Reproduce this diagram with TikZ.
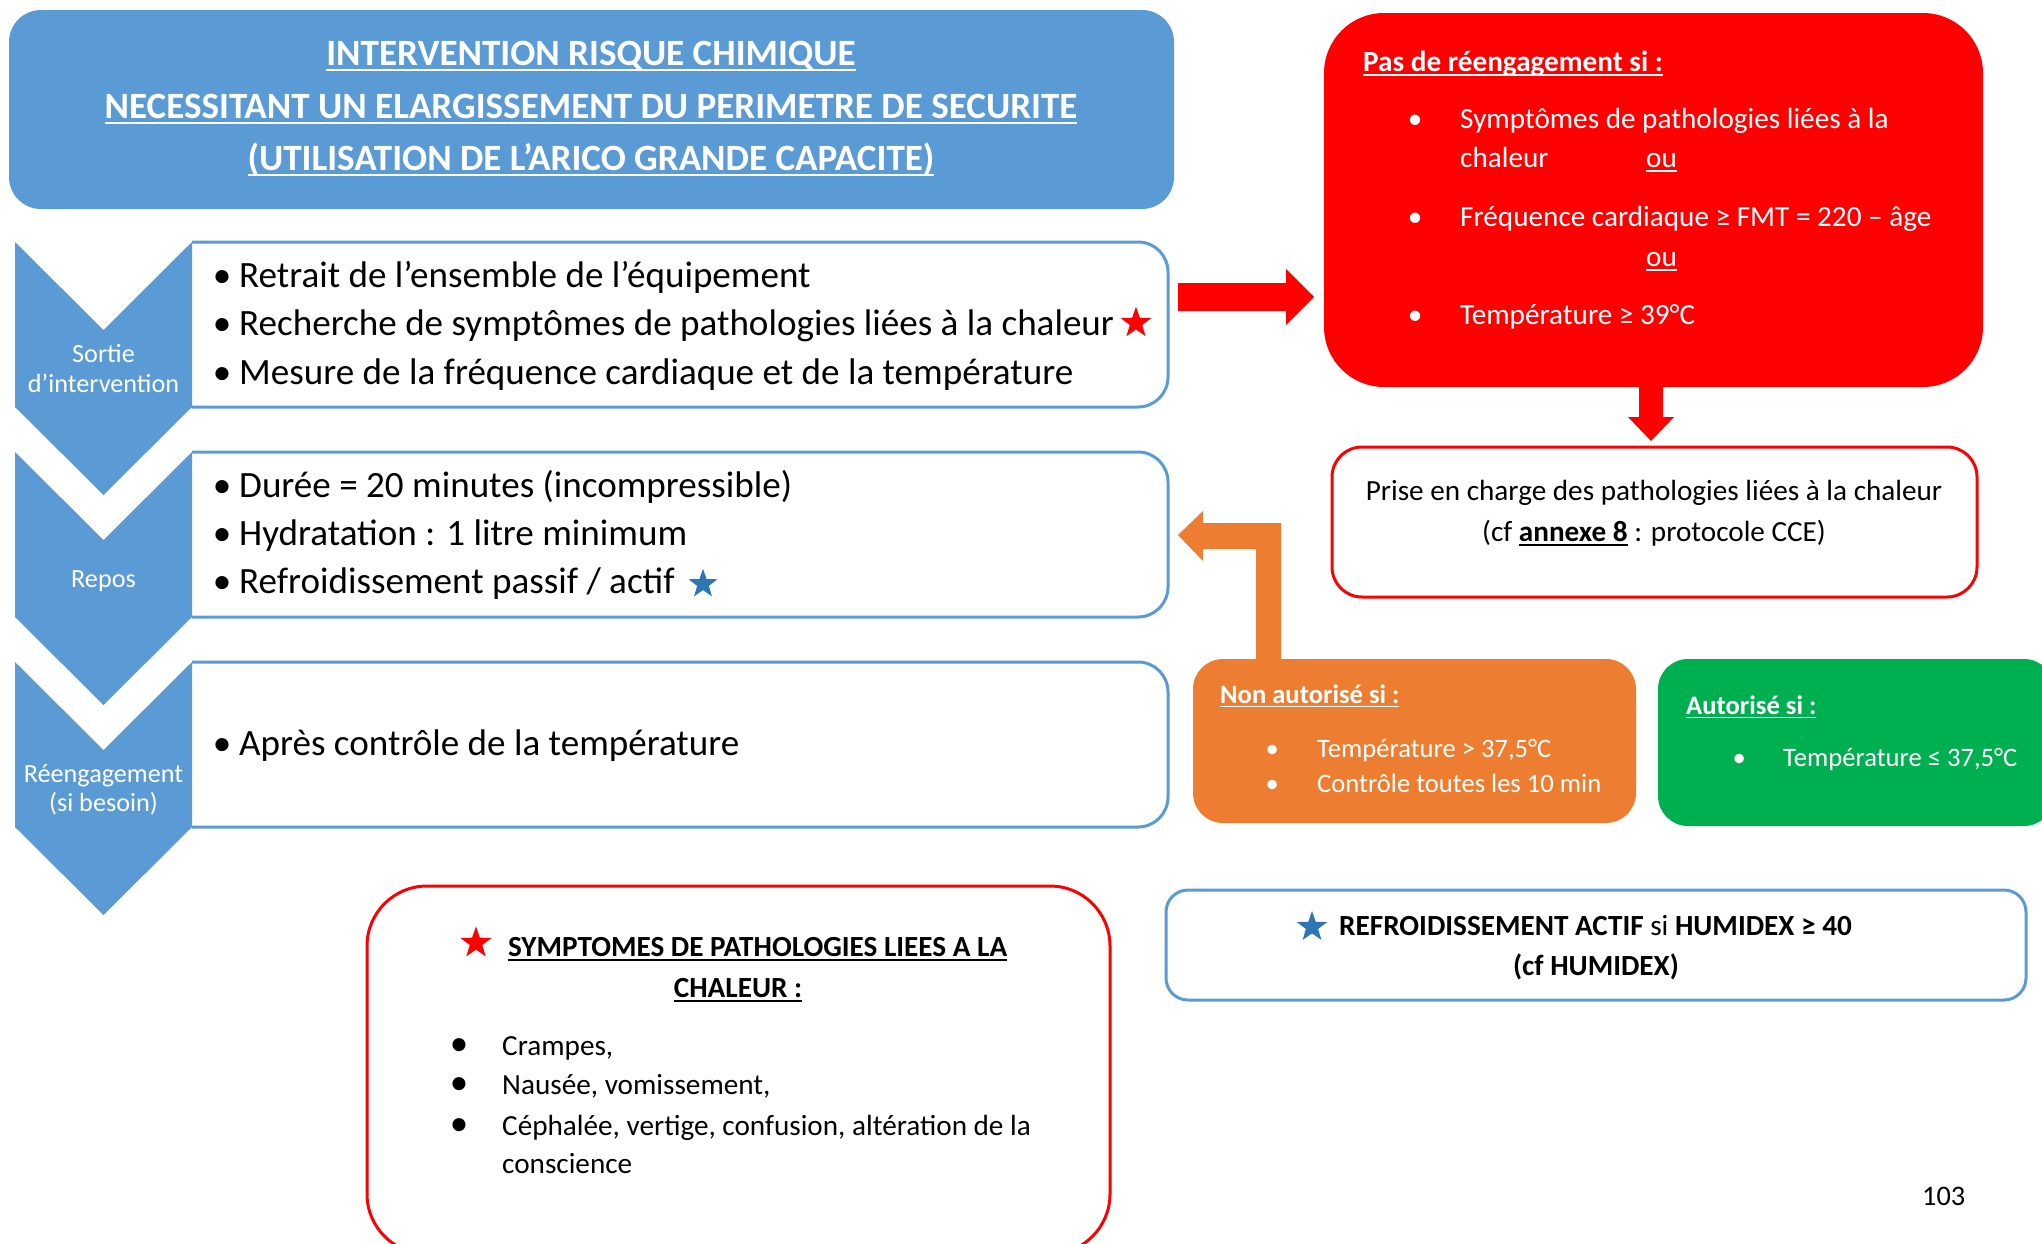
\documentclass[tikz,border=0pt]{standalone}
\usepackage{fontspec}
\setmainfont{Carlito}
\usetikzlibrary{shapes.geometric}
\definecolor{cblue}{RGB}{91,155,213}
\definecolor{corange}{RGB}{237,125,49}
\definecolor{cgreen}{RGB}{0,176,80}
\definecolor{cred}{RGB}{255,0,0}
\definecolor{cstar}{RGB}{46,117,182}
\newcommand\fs[1]{\fontsize{#1}{#1}\selectfont}
\newcommand\myul[1]{\setbox0=\hbox{#1}\rlap{\rule[-0.16em]{\wd0}{0.065em}}\box0\relax}
\newcommand\bl[1]{\makebox[0pt][c]{\textbullet}\hspace{#1}}
\newcommand\chev[2]{\fill[cblue] (15,#1) -- (103.5,#1+88) -- (192,#1) -- (192,#2) -- (103.5,#2+88) -- (15,#2) -- cycle;}
\newcommand\lbox[2]{\filldraw[fill=white, draw=cblue, line width=3, rounded corners=30] (192,#1) -- (1168,#1) -- (1168,#2) -- (192,#2);}
\begin{document}
\begin{tikzpicture}[x=1pt, y=-1pt,
  txt/.style={inner sep=0pt, anchor=base west},
  ctxt/.style={inner sep=0pt, anchor=base},
  starnode/.style={star, star points=5, star point ratio=2.5, inner sep=0pt, minimum size=#1, draw=none}]
\useasboundingbox (0,0) rectangle (2042,1243);
\clip (0,0) rectangle (2042,1243);
\fill[white] (0,0) rectangle (2042,1243);

% title
\fill[cblue, rounded corners=32] (9,10) rectangle (1174,209);
\begin{scope}[every node/.style={ctxt, text=white, font=\fs{37.1}\bfseries}]
\node (ti1) at (591,65) {\myul{INTERVENTION RISQUE CHIMIQUE}};
\node (ti2) at (591,118) {\myul{NECESSITANT UN ELARGISSEMENT DU PERIMETRE DE SECURITE}};
\node (ti3) at (591,170) {\myul{(UTILISATION DE L’ARICO GRANDE CAPACITE)}};
\end{scope}

% left boxes and chevrons
\lbox{242}{407}
\lbox{452}{617}
\lbox{662}{827}
\chev{242}{407}
\chev{452}{617}
\chev{662}{827}

\begin{scope}[every node/.style={ctxt, text=white, font=\fs{26.2}}]
\node (c1a) at (103.5,362) {Sortie};
\node (c1b) at (103.5,392) {d’intervention};
\node (c2) at (103.5,587) {Repos};
\node (c3a) at (103.5,782) {Réengagement};
\node (c3b) at (103.5,811) {(si besoin)};
\end{scope}

\begin{scope}[every node/.style={txt, font=\fs{37.1}}]
\node (b1a) at (222,287) {\bl{17pt}Retrait de l’ensemble de l’équipement};
\node (b1b) at (222,335) {\bl{17pt}Recherche de symptômes de pathologies liées à la chaleur};
\node (b1c) at (222,384) {\bl{17pt}Mesure de la fréquence cardiaque et de la température};
\node (b2a) at (222,497) {\bl{17pt}Durée = 20 minutes (incompressible)};
\node (b2b) at (222,545) {\bl{17pt}Hydratation : 1 litre minimum};
\node (b2c) at (222,593) {\bl{17pt}Refroidissement passif / actif};
\node (b3a) at (222,755) {\bl{17pt}Après contrôle de la température};
\end{scope}
\node[starnode=32.6, fill=cred] (st1) at (1136,323) {};
\node[starnode=30.5, fill=cstar] (st2) at (703,584) {};

% red box
\fill[cred, rounded corners=60] (1324,13) rectangle (1983,387);
\begin{scope}[every node/.style={txt, text=white, font=\fs{29.2}}]
\node (r0) at (1363,71) {\bfseries\myul{Pas de réengagement si :}};
\node (r1) at (1415,128) {\bl{45pt}Symptômes de pathologies liées à la};
\node (r1b) at (1460,167) {chaleur};
\node (r1c) at (1646,167) {\myul{ou}};
\node (r2) at (1415,226) {\bl{45pt}Fréquence cardiaque ≥ FMT = 220 – âge};
\node (r2c) at (1646,266) {\myul{ou}};
\node (r3) at (1415,324) {\bl{45pt}Température ≥ 39°C};
\end{scope}

% red arrows
\fill[cred] (1178,283) -- (1286,283) -- (1286,269) -- (1314,297) -- (1286,325) -- (1286,311) -- (1178,311) -- cycle;
\fill[cred] (1639,380) -- (1663,380) -- (1663,417) -- (1674,417) -- (1651,441) -- (1628,417) -- (1639,417) -- cycle;

% prise en charge box
\filldraw[fill=white, draw=cred, line width=3, rounded corners=30] (1332,447) rectangle (1977,597);
\begin{scope}[every node/.style={ctxt, font=\fs{29.2}}]
\node (p1) at (1654,500) {Prise en charge des pathologies liées à la chaleur};
\node (p2) at (1654,541) {(cf \myul{\textbf{annexe 8}} : protocole CCE)};
\end{scope}

% orange box and elbow arrow
\fill[corange, rounded corners=30] (1193,659) rectangle (1636,823);
\fill[corange] (1256,665) -- (1256,549) -- (1203,549) -- (1203,561) -- (1178,535) -- (1203,511) -- (1203,523) -- (1281,523) -- (1281,665) -- cycle;
\begin{scope}[every node/.style={txt, text=white, font=\fs{26.6}}]
\node (o0) at (1220,703) {\bfseries\myul{Non autorisé si :}};
\node (o1) at (1272,757) {\bl{45pt}Température > 37,5°C};
\node (o2) at (1272,792) {\bl{45pt}Contrôle toutes les 10 min};
\end{scope}

% green box
\fill[cgreen, rounded corners=30] (1658,659) rectangle (2054,826);
\begin{scope}[every node/.style={txt, text=white, font=\fs{26.6}}]
\node (g0) at (1686,714) {\bfseries\myul{Autorisé si :}};
\node (g1) at (1739,766) {\bl{44pt}Température ≤ 37,5°C};
\end{scope}

% note box
\filldraw[fill=white, draw=cblue, line width=3, rounded corners=22] (1166,890) rectangle (2026,1000);
\node[starnode=32, fill=cstar] (st3) at (1312,927) {};
\node[txt, font=\fs{29.2}] (n1) at (1339,935) {\textbf{REFROIDISSEMENT ACTIF} si \textbf{HUMIDEX ≥ 40}};
\node[ctxt, font=\fs{29.2}\bfseries] (n2) at (1596,975) {(cf HUMIDEX)};

% symptom box
\filldraw[fill=white, draw=cred, line width=3, rounded corners=60] (367,886) rectangle (1110,1254);
\node[starnode=33, fill=cred] (st4) at (476,943) {};
\begin{scope}[every node/.style={font=\fs{29.2}}]
\node[txt] (s0) at (508,956) {\bfseries\myul{SYMPTOMES DE PATHOLOGIES LIEES A LA}};
\node[ctxt] (s0b) at (738,997) {\bfseries\myul{CHALEUR :}};
\node[txt] (s1) at (459,1055) {\makebox[0pt][c]{\fs{37}\textbullet}\hspace{43pt}Crampes,};
\node[txt] (s2) at (459,1094) {\makebox[0pt][c]{\fs{37}\textbullet}\hspace{43pt}Nausée, vomissement,};
\node[txt] (s3) at (459,1135) {\makebox[0pt][c]{\fs{37}\textbullet}\hspace{43pt}Céphalée, vertige, confusion, altération de la};
\node[txt] (s4) at (502,1173) {conscience};
\end{scope}

\node[txt, font=\fs{28.3}] (pg) at (1922,1205) {103};
\end{tikzpicture}
\end{document}
